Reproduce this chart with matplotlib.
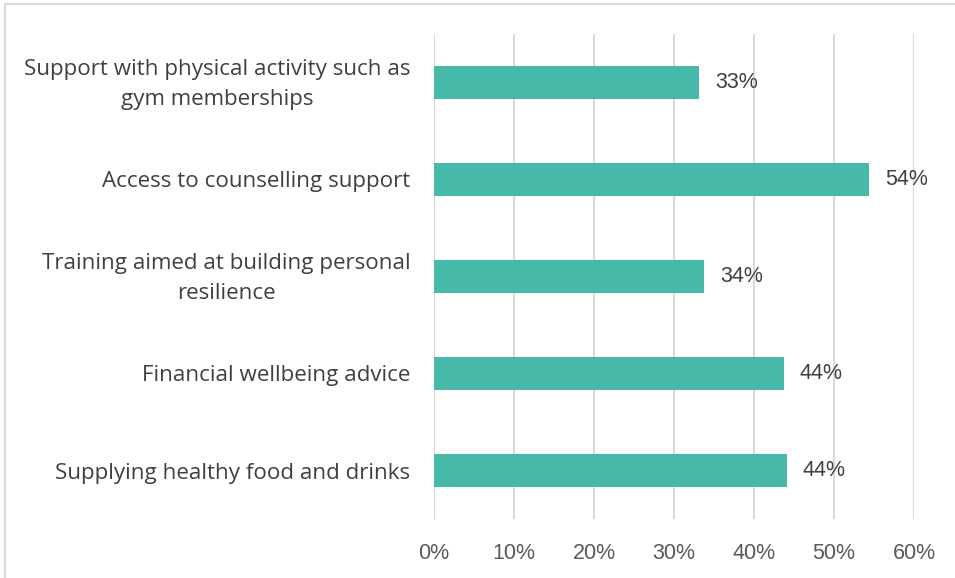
import matplotlib.pyplot as plt
import matplotlib.transforms as mtransforms
from matplotlib.patches import Rectangle
from matplotlib.ticker import PercentFormatter

categories = [
    "Support with physical activity such as\ngym memberships",
    "Access to counselling support",
    "Training aimed at building personal\nresilience",
    "Financial wellbeing advice",
    "Supplying healthy food and drinks",
]
values = [33.1, 54.4, 33.8, 43.7, 44.1]
ticks = [0, 10, 20, 30, 40, 50, 60]

bar_color = "#47B9A9"
text_color = "#404040"
tick_color = "#595959"

plt.rcParams['font.family'] = ['Open Sans', 'DejaVu Sans']

fig = plt.figure(figsize=(9.55, 5.78), dpi=100)
ax = fig.add_axes([434 / 955, 1 - 519 / 578, 480 / 955, 485 / 578])

pos = list(range(len(categories)))
ax.barh(pos, values, height=0.35, color=bar_color, zorder=3)
ax.set_ylim(len(categories) - 0.5, -0.5)
ax.set_xlim(0, 60)

for y, v in zip(pos, values):
    ax.text(v + 2.0, y, f"{round(v)}%", va="center", ha="left",
            fontsize=15.5, color=text_color, family=['Liberation Sans', 'DejaVu Sans'])

ax.set_yticks(pos)
ax.set_yticklabels(categories, fontsize=16.1, color=text_color,
                   multialignment="center", linespacing=1.55)
ax.tick_params(axis="y", length=0, pad=17)

# nudge two-line labels up a little so they sit centred on their bars
shift = mtransforms.ScaledTranslation(0, 5 / 100, fig.dpi_scale_trans)
for lab in ax.get_yticklabels():
    if "\n" in lab.get_text():
        lab.set_transform(lab.get_transform() + shift)

ax.set_xticks(ticks)
ax.xaxis.set_major_formatter(PercentFormatter(decimals=0))
ax.tick_params(axis="x", length=0, pad=17, labelsize=15.5, labelcolor=tick_color)
for lab in ax.get_xticklabels():
    lab.set_family(['Liberation Sans', 'DejaVu Sans'])

ax.grid(axis="x", color="#D9D9D9", linewidth=1.5, zorder=0)
for s in ax.spines.values():
    s.set_visible(False)

# outer chart frame
fig.patches.append(Rectangle((5 / 955, -0.1), 1.1, 1.1 - 4 / 578,
                             transform=fig.transFigure, fill=False,
                             edgecolor="#D9D9D9", linewidth=1.5))

fig.savefig("out.png", dpi=100)
